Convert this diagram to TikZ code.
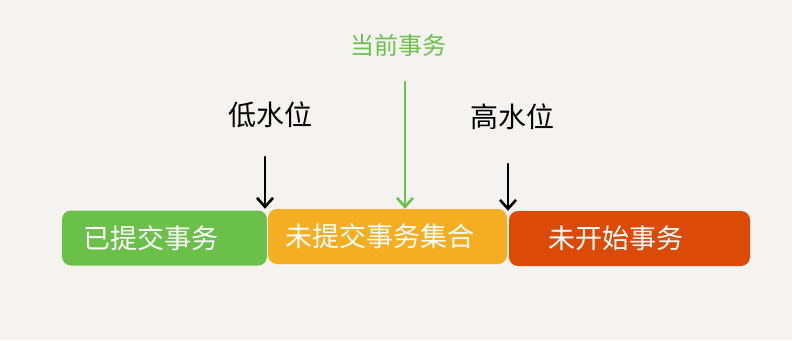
\documentclass[tikz,border=0pt]{standalone}
\usepackage{fontspec}
\newfontfamily\cjk{Noto Sans CJK SC}
\usetikzlibrary{arrows.meta}
\definecolor{paper}{HTML}{F4F3EF}
\definecolor{doneG}{HTML}{6BC04A}
\definecolor{openO}{HTML}{F5AE22}
\definecolor{todoR}{HTML}{DB4A06}
\definecolor{curG}{HTML}{6CC04C}
\tikzset{
  bar/.style={
    draw=none,
    rounded corners=9pt,
    inner sep=0pt,
    minimum height=55pt
  },
  bartext/.style={
    text=white,
    font=\cjk\fontsize{27}{27}\selectfont
  },
  waterlabel/.style={
    font=\cjk\fontsize{28}{28}\selectfont
  },
  pointer/.style={
    line width=2.6pt,
    line cap=round,
    -{Straight Barb[length=9pt,width=16pt,line width=2.6pt]}
  }
}
\begin{document}
\begin{tikzpicture}[x=1pt,y=-1pt]
            \fill[paper] (0,0) rectangle (792,340);
            \useasboundingbox (0,0) rectangle (792,340);
            \node[bar,fill=doneG,minimum width=205pt] (done) at (164.5,238) {};
            \node[bar,fill=openO,minimum width=239pt] (open) at (387.5,236.5) {};
            \node[bar,fill=todoR,minimum width=241pt] (todo) at (629.5,238.5) {};
            \node[bartext] (donetext) at ([xshift=-14pt]done.center) {已提交事务};
            \node[bartext] (opentext) at ([xshift=-8pt]open.center) {未提交事务集合};
            \node[bartext] (todotext) at ([xshift=-14pt]todo.center) {未开始事务};
            \node[waterlabel] (low) at (270,115) {低水位};
            \node[waterlabel] (high) at (512,117) {高水位};
            \node[waterlabel,text=curG,font=\cjk\fontsize{24}{24}\selectfont] (cur) at (398,45) {当前事务};
            \coordinate (lowtop) at (265,157);
            \coordinate (hightop) at (508,164);
            \coordinate (curtop) at (405,82);
            \draw[pointer] (lowtop)--(lowtop|-open.north);
            \draw[pointer] (hightop)--(hightop|-todo.north);
            \draw[pointer,curG] (curtop)--(curtop|-open.north);
        \end{tikzpicture}
\end{document}
